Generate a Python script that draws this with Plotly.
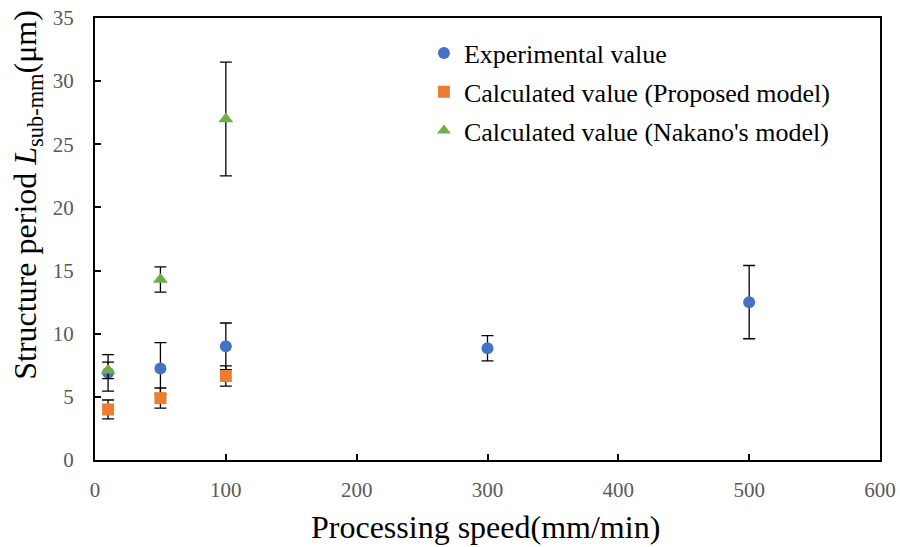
import plotly.graph_objects as go

# Processing speed (mm/min)
speed_exp = [10, 50, 100, 300, 500]
speed_calc = [10, 50, 100]

# Structure period L_sub-mm (um) with error half-widths
exp_val = [6.9, 7.25, 9.0, 8.85, 12.5]
exp_err = [1.45, 2.05, 1.85, 1.0, 2.9]

prop_val = [4.0, 4.9, 6.65]
prop_err = [0.75, 0.8, 0.8]

nakano_val = [7.1, 14.3, 27.0]
nakano_err = [0.65, 1.0, 4.5]

serif = "Liberation Serif"

def err(vals):
    return dict(type="data", array=vals, visible=True, color="black",
                thickness=1.3, width=6)

fig = go.Figure()
fig.add_trace(go.Scatter(
    x=speed_exp, y=exp_val, mode="markers", name="Experimental value",
    legendgroup="exp",
    marker=dict(symbol="circle", size=12, color="#4472C4"),
    error_y=err(exp_err)))
fig.add_trace(go.Scatter(
    x=speed_calc, y=prop_val, mode="markers", name="Calculated value (Proposed model)",
    legendgroup="prop",
    marker=dict(symbol="square", size=12, color="#ED7D31"),
    error_y=err(prop_err)))
fig.add_trace(go.Scatter(
    x=speed_calc, y=nakano_val, mode="markers", name="Calculated value (Nakano's model)",
    legendgroup="nakano",
    marker=dict(symbol="triangle-up", size=13, color="#70AD47"),
    error_y=err(nakano_err)))

axis_common = dict(
    showgrid=False, zeroline=False, showline=True, mirror=True,
    linecolor="black", linewidth=2,
    ticks="inside", ticklen=6, tickwidth=2, tickcolor="black",
    tickfont=dict(family=serif, size=21, color="#595959"),
    automargin=False,
)

fig.update_layout(
    width=900, height=547,
    margin=dict(l=95, r=20, t=18, b=87),
    paper_bgcolor="white", plot_bgcolor="white",
    font=dict(family=serif, color="black"),
    xaxis=dict(range=[0, 600], dtick=100, ticklabelstandoff=10, **axis_common),
    yaxis=dict(range=[0, 35], dtick=5, ticklabelstandoff=15, **axis_common),
    legend=dict(x=0.419, y=0.974, xanchor="left", yanchor="top",
                font=dict(family=serif, size=26, color="black"),
                bgcolor="rgba(0,0,0,0)", tracegroupgap=2,
                itemsizing="constant", itemwidth=30),
    showlegend=True,
)

# Axis titles
fig.add_annotation(
    text="Processing speed(mm/min)",
    xref="paper", yref="paper", x=0.498, y=-0.1516,
    xanchor="center", yanchor="middle", showarrow=False,
    font=dict(family=serif, size=32, color="black"),
)
fig.add_annotation(
    text="Structure period <i>L</i><sub>sub-mm</sub>(μm)",
    xref="paper", yref="paper", x=-0.0854, y=0.6,
    xanchor="center", yanchor="middle", textangle=-90, showarrow=False,
    font=dict(family=serif, size=32, color="black"),
)

fig.write_html("out.html")
